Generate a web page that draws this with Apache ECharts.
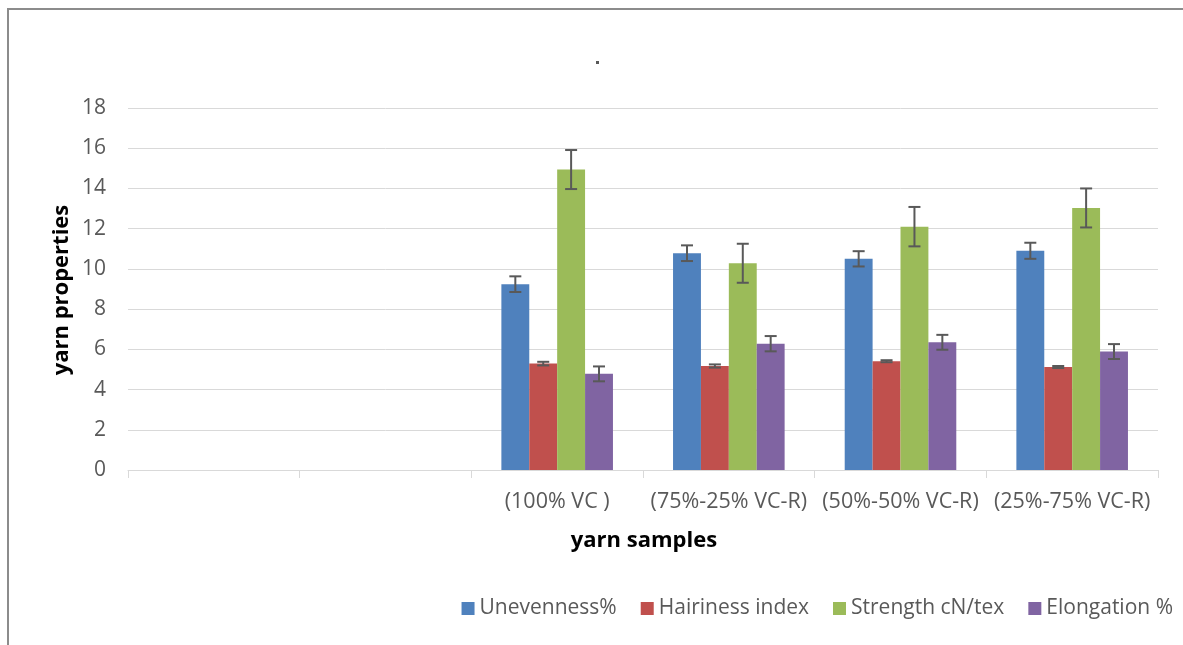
<!DOCTYPE html>
<html>
<head>
<meta charset="utf-8">
<script src="https://cdn.jsdelivr.net/npm/echarts@6/dist/echarts.min.js"></script>
<style>
html,body{margin:0;padding:0;background:#fff;}
#c{width:1183px;height:645px;}
</style>
</head>
<body>
<div id="c"></div>
<script>
var categories = ['', '', '(100% VC )', '(75%-25% VC-R)', '(50%-50% VC-R)', '(25%-75% VC-R)'];
var seriesNames = ['Unevenness%', 'Hairiness index', 'Strength cN/tex', 'Elongation %'];
var unevenness = [null, null, 9.24, 10.78, 10.50, 10.90];
var hairiness = [null, null, 5.29, 5.17, 5.41, 5.12];
var strength = [null, null, 14.94, 10.28, 12.10, 13.03];
var elongation = [null, null, 4.78, 6.28, 6.35, 5.89];
var unevennessErr = [null, null, 0.39, 0.39, 0.38, 0.40];
var hairinessErr = [null, null, 0.09, 0.08, 0.05, 0.05];
var strengthErr = [null, null, 0.97, 0.97, 0.98, 0.97];
var elongationErr = [null, null, 0.37, 0.38, 0.37, 0.37];
var yTicks = [0, 2, 4, 6, 8, 10, 12, 14, 16, 18];

var colors = ['#4f81bd', '#c0504d', '#9bbb59', '#8064a2'];
var values = [unevenness, hairiness, strength, elongation];
var errs = [unevennessErr, hairinessErr, strengthErr, elongationErr];
var FONT = '"Open Sans", "Noto Sans", sans-serif';
var catGap = 0.35;

var series = [];
values.forEach(function (vals, si) {
  series.push({
    name: seriesNames[si],
    type: 'bar',
    data: vals.map(function (v) { return v == null ? '-' : v; }),
    itemStyle: { color: colors[si] },
    barGap: '0%',
    barCategoryGap: (catGap * 100) + '%',
    silent: true
  });
});
values.forEach(function (vals, si) {
  var d = [];
  vals.forEach(function (v, ci) {
    if (v != null) d.push([ci, v - errs[si][ci], v + errs[si][ci]]);
  });
  series.push({
    type: 'custom',
    silent: true,
    z: 10,
    data: d,
    renderItem: function (params, api) {
      var ci = api.value(0);
      var lo = api.coord([ci, api.value(1)]);
      var hi = api.coord([ci, api.value(2)]);
      var band = api.size([1, 0])[0];
      var w = band * (1 - catGap) / 4;
      var x = lo[0] + (si - 1.5) * w;
      var cap = 6;
      var st = { stroke: '#595959', lineWidth: 2 };
      return {
        type: 'group',
        children: [
          { type: 'line', shape: { x1: x, y1: hi[1], x2: x, y2: lo[1] }, style: st },
          { type: 'line', shape: { x1: x - cap, y1: hi[1], x2: x + cap, y2: hi[1] }, style: st },
          { type: 'line', shape: { x1: x - cap, y1: lo[1], x2: x + cap, y2: lo[1] }, style: st }
        ]
      };
    }
  });
});

var chart = echarts.init(document.getElementById('c'));
chart.setOption({
  animation: false,
  backgroundColor: '#fff',
  textStyle: { fontFamily: FONT },
  grid: { left: 128, right: 25, top: 108, bottom: 175 },
  legend: {
    data: seriesNames,
    right: 5,
    top: 593,
    icon: 'rect',
    itemWidth: 13,
    itemHeight: 13,
    itemGap: 24,
    textStyle: { fontSize: 21, color: '#595959', fontFamily: FONT }
  },
  xAxis: {
    type: 'category',
    data: categories,
    axisLine: { lineStyle: { color: '#d9d9d9', width: 1 } },
    axisTick: { show: true, interval: 0, length: 8, lineStyle: { color: '#d9d9d9' } },
    axisLabel: { interval: 0, fontSize: 21.5, color: '#595959', margin: 21, fontFamily: FONT }
  },
  yAxis: {
    type: 'value',
    min: yTicks[0],
    max: yTicks[yTicks.length - 1],
    interval: 2,
    axisLine: { show: false },
    axisTick: { show: false },
    splitLine: { lineStyle: { color: '#d9d9d9', width: 1 } },
    axisLabel: { fontSize: 21, color: '#595959', margin: 22, fontFamily: FONT }
  },
  graphic: [
    { type: 'rect', shape: { x: 8, y: 9, width: 1200, height: 700 }, style: { fill: 'none', stroke: '#8c8c8c', lineWidth: 2 }, silent: true },
    { type: 'rect', shape: { x: 596, y: 61, width: 3, height: 3 }, style: { fill: '#595959' }, silent: true },
    { type: 'text', x: 644, y: 541, style: { text: 'yarn samples', font: 'bold 22px ' + FONT, fill: '#000', textAlign: 'center', textVerticalAlign: 'middle' } },
    { type: 'text', x: 62, y: 290, rotation: Math.PI / 2, style: { text: 'yarn properties', font: 'bold 22px ' + FONT, fill: '#000', textAlign: 'center', textVerticalAlign: 'middle' } }
  ],
  series: series
});
</script>
</body>
</html>
